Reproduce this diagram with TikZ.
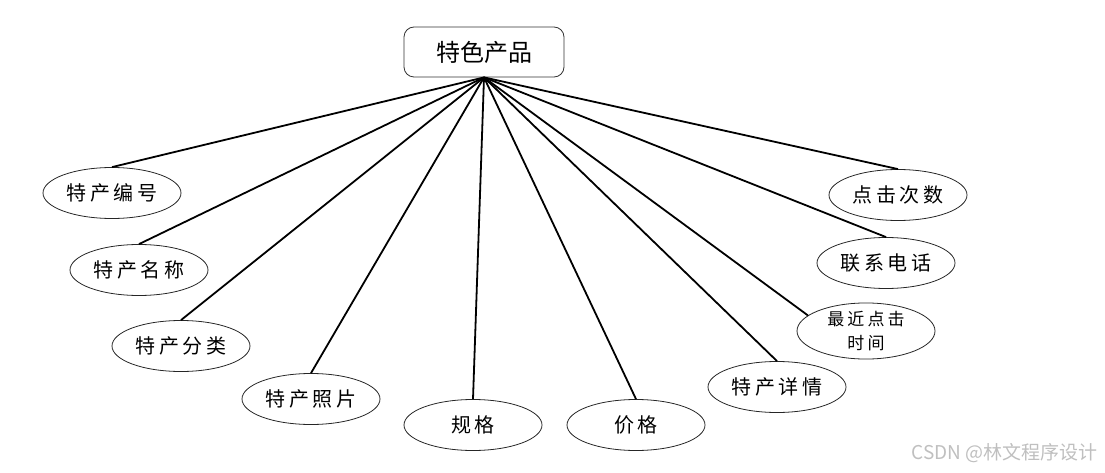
\documentclass[tikz,border=0pt]{standalone}
\usepackage{fontspec}
\usetikzlibrary{shapes.geometric}
\newfontfamily\cjk{Noto Sans CJK SC}
\newfontfamily\cjksp[LetterSpace=18]{Noto Sans CJK SC}
\begin{document}
\begin{tikzpicture}[x=1pt,y=-1pt,
  attr/.style={draw=black!85,line width=0.8pt,ellipse,minimum width=138pt,minimum height=51pt,inner sep=0pt,font=\cjksp\fontsize{20}{22}\selectfont},
  ent/.style={draw=black!80,line width=0.8pt,rounded corners=10pt,minimum width=160pt,minimum height=50pt,inner sep=0pt,font=\cjk\fontsize{24}{26}\selectfont},
  link/.style={line width=1.8pt}]
\useasboundingbox (0,0) rectangle (1105,473);
\node[ent] (top) at (484,52) {特色产品};
\node[attr] (e1) at (112,193) {特产编号};
\node[attr] (e2) at (139,270) {特产名称};
\node[attr] (e3) at (181,346) {特产分类};
\node[attr] (e4) at (311,399) {特产照片};
\node[attr] (e5) at (473,425) {规格};
\node[attr] (e6) at (636,425) {价格};
\node[attr] (e7) at (777,387) {特产详情};
\node[attr,align=center,font=\cjksp\fontsize{17}{24}\selectfont] (e8) at (866,331) {最近点击\\时间};
\node[attr] (e9) at (886,263) {联系电话};
\node[attr] (e10) at (898,195) {点击次数};
\foreach \e in {e1,e2,e3,e4,e5,e6,e7,e9,e10}
  \draw[link] (top.south) -- (\e.north);
\draw[link] (top.south) -- (e8.165);
\node[text=black!25,font=\cjk\fontsize{19}{22}\selectfont,anchor=east] (wm) at (1101,453) {CSDN @林文程序设计};
\end{tikzpicture}
\end{document}
